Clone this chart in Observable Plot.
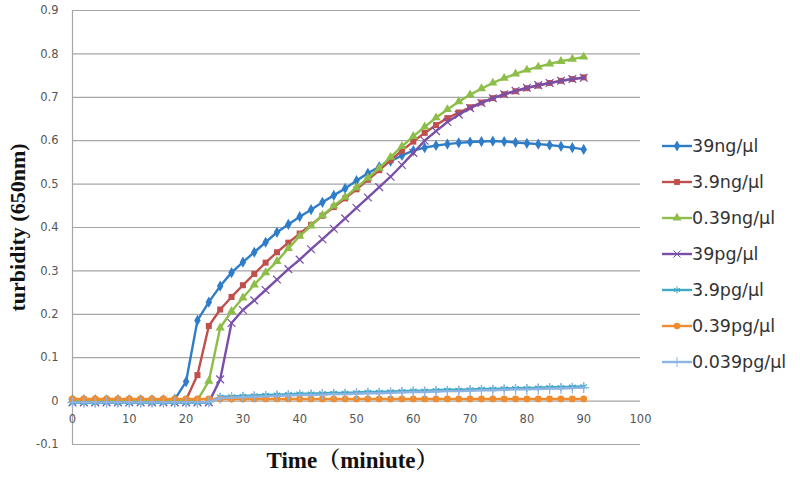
<!DOCTYPE html>
<html>
<head>
<meta charset="utf-8">
<script src="https://cdn.jsdelivr.net/npm/d3@7"></script>
<script src="https://cdn.jsdelivr.net/npm/@observablehq/plot@0.6"></script>
<style>
  html, body { margin: 0; padding: 0; background: #fff; }
  #wrap { position: relative; width: 800px; height: 478px; }
  #legend { position: absolute; left: 660px; top: 128px; font-family: "DejaVu Sans", sans-serif; font-size: 17.5px; color: #333; }
  .item { height: 36px; display: flex; align-items: center; white-space: nowrap; }
  .item svg { margin-right: 0px; }
</style>
</head>
<body>
<div id="wrap"><div id="legend"></div></div>
<script>
const times = [0,2,4,6,8,10,12,14,16,18,20,22,24,26,28,30,32,34,36,38,40,42,44,46,48,50,52,54,56,58,60,62,64,66,68,70,72,74,76,78,80,82,84,86,88,90];

const seriesNames = ["39ng/μl","3.9ng/μl","0.39ng/μl","39pg/μl","3.9pg/μl","0.39pg/μl","0.039pg/μl"];
const seriesColors = ["#2F7DC8","#C0504D","#8DBE4A","#7A4FA8","#3FA9C6","#F08C30","#8DB4E2"];
const seriesSymbols = ["diamond","square","triangle","times","asterisk","circle","plus"];

const s39ng = [0.003,0.003,0.003,0.003,0.003,0.003,0.003,0.003,0.003,0.004,0.045,0.186,0.228,0.265,0.296,0.320,0.343,0.366,0.389,0.407,0.425,0.441,0.458,0.474,0.490,0.508,0.525,0.540,0.553,0.566,0.577,0.584,0.589,0.592,0.595,0.597,0.598,0.599,0.598,0.596,0.594,0.592,0.590,0.587,0.584,0.580];
const s3_9ng = [0.003,0.003,0.003,0.003,0.003,0.003,0.003,0.003,0.003,0.003,0.003,0.060,0.173,0.211,0.240,0.267,0.293,0.319,0.343,0.365,0.386,0.406,0.427,0.447,0.467,0.488,0.510,0.532,0.555,0.577,0.598,0.618,0.636,0.652,0.665,0.677,0.688,0.698,0.707,0.714,0.721,0.727,0.733,0.738,0.742,0.746];
const s0_39ng = [0.002,0.002,0.002,0.002,0.002,0.002,0.002,0.002,0.002,0.002,0.002,0.002,0.046,0.169,0.207,0.238,0.268,0.296,0.322,0.352,0.380,0.404,0.428,0.450,0.470,0.492,0.514,0.537,0.562,0.587,0.610,0.632,0.653,0.672,0.690,0.706,0.720,0.733,0.744,0.754,0.763,0.770,0.777,0.783,0.788,0.793];
const s39pg = [-0.003,-0.003,-0.003,-0.003,-0.003,-0.003,-0.003,-0.003,-0.003,-0.003,-0.003,-0.003,-0.003,0.050,0.180,0.210,0.232,0.256,0.280,0.304,0.326,0.350,0.373,0.397,0.421,0.445,0.469,0.493,0.517,0.544,0.572,0.600,0.622,0.643,0.660,0.675,0.687,0.698,0.707,0.715,0.722,0.728,0.733,0.738,0.742,0.745];
const s3_9pg = [-0.004,-0.004,-0.004,-0.004,-0.004,-0.004,-0.004,-0.004,-0.004,-0.004,-0.004,-0.004,-0.003,0.010,0.011,0.012,0.013,0.014,0.015,0.016,0.017,0.017,0.018,0.019,0.019,0.020,0.021,0.021,0.022,0.023,0.024,0.024,0.025,0.026,0.026,0.027,0.028,0.028,0.029,0.030,0.030,0.031,0.032,0.032,0.033,0.034];
const s0_39pg = [0.005,0.005,0.005,0.005,0.005,0.005,0.005,0.005,0.005,0.005,0.005,0.005,0.005,0.005,0.005,0.005,0.005,0.005,0.005,0.005,0.005,0.005,0.005,0.005,0.005,0.005,0.005,0.005,0.005,0.005,0.005,0.005,0.005,0.005,0.005,0.005,0.005,0.005,0.005,0.005,0.005,0.005,0.005,0.005,0.005,0.005];
const s0_039pg = [-0.003,-0.003,-0.003,-0.003,-0.003,-0.003,-0.003,-0.003,-0.003,-0.003,-0.003,-0.003,-0.002,0.007,0.008,0.009,0.010,0.011,0.012,0.013,0.014,0.014,0.015,0.016,0.016,0.017,0.018,0.018,0.019,0.020,0.021,0.021,0.022,0.023,0.023,0.024,0.025,0.025,0.026,0.027,0.027,0.028,0.029,0.029,0.030,0.031];

const seriesValues = [s39ng, s3_9ng, s0_39ng, s39pg, s3_9pg, s0_39pg, s0_039pg];

const yTicks = [-0.1,0,0.1,0.2,0.3,0.4,0.5,0.6,0.7,0.8,0.9];
const yTickLabels = ["-0.1","0","0.1","0.2","0.3","0.4","0.5","0.6","0.7","0.8","0.9"];
const xTicks = [0,10,20,30,40,50,60,70,80,90,100];

const xTitle = "Time（miniute）";
const yTitle = "turbidity (650nm)";

const data = [];
seriesNames.forEach((name, i) => {
  times.forEach((t, j) => data.push({series: name, time: t, value: seriesValues[i][j]}));
});

const filledSet = new Set(["diamond","square","triangle","circle"]);

const gridColor = "#A6A6A6";
const tickFont = "DejaVu Sans, sans-serif";

const drawOrder = [0,1,2,3,4,5,6];

const marks = [
  Plot.ruleY(yTicks, {stroke: gridColor, strokeWidth: 1.2}),
  Plot.ruleX([0], {stroke: gridColor, strokeWidth: 1.2}),
  Plot.text(yTicks, {x: 0, y: d => d, text: (d, i) => yTickLabels[i], textAnchor: "end", dx: -14, fontSize: 11.5, fill: "#555", fontFamily: tickFont}),
  Plot.text(xTicks, {x: d => d, y: 0, text: d => String(d), dy: 18, fontSize: 11.5, fill: "#555", fontFamily: tickFont}),
];

drawOrder.forEach(i => {
  const name = seriesNames[i];
  const sub = data.filter(d => d.series === name);
  marks.push(Plot.line(sub, {x: "time", y: "value", stroke: "series", strokeWidth: 2.4}));
  if (filledSet.has(seriesSymbols[i])) {
    marks.push(Plot.dot(sub, {x: "time", y: "value", fill: "series", symbol: "series", r: 3.4}));
  } else {
    marks.push(Plot.dot(sub, {x: "time", y: "value", stroke: "series", symbol: "series", r: 3.6, strokeWidth: 1.2}));
  }
});

marks.push(Plot.text([yTitle], {frameAnchor: "left", textAnchor: "middle", dx: -55, rotate: -90, fontSize: 22, fontWeight: "bold", fontFamily: "Liberation Serif, DejaVu Serif, serif", fill: "#111"}));
marks.push(Plot.text([xTitle], {frameAnchor: "bottom", dy: 23, dx: -4, fontSize: 23, fontWeight: "bold", fontFamily: "Liberation Serif, Noto Serif CJK SC, Noto Sans CJK SC, serif", fill: "#111"}));

const chart = Plot.plot({
  width: 800,
  height: 478,
  marginLeft: 72,
  marginRight: 160,
  marginTop: 10,
  marginBottom: 34,
  x: {domain: [0, 100], axis: null},
  y: {domain: [-0.1, 0.9], axis: null},
  color: {domain: seriesNames, range: seriesColors},
  symbol: {domain: seriesNames, range: seriesSymbols},
  style: {background: "#fff", overflow: "visible"},
  marks
});

const wrap = document.getElementById("wrap");
wrap.insertBefore(chart, wrap.firstChild);

// Legend
const legend = document.getElementById("legend");
const symMap = {diamond: d3.symbolDiamond, square: d3.symbolSquare, triangle: d3.symbolTriangle, circle: d3.symbolCircle, times: d3.symbolTimes, asterisk: d3.symbolAsterisk, plus: d3.symbolPlus};
seriesNames.forEach((name, i) => {
  const div = document.createElement("div");
  div.className = "item";
  const svg = d3.create("svg").attr("width", 32).attr("height", 14);
  svg.append("line").attr("x1", 2).attr("x2", 32).attr("y1", 7).attr("y2", 7).attr("stroke", seriesColors[i]).attr("stroke-width", 2.4);
  const filled = filledSet.has(seriesSymbols[i]);
  svg.append("path").attr("transform", "translate(17,7)")
    .attr("d", d3.symbol(symMap[seriesSymbols[i]], Math.PI * 11)())
    .attr("fill", filled ? seriesColors[i] : "none")
    .attr("stroke", filled ? "none" : seriesColors[i]);
  div.appendChild(svg.node());
  const span = document.createElement("span");
  span.textContent = name;
  div.appendChild(span);
  legend.appendChild(div);
});
</script>
</body>
</html>
